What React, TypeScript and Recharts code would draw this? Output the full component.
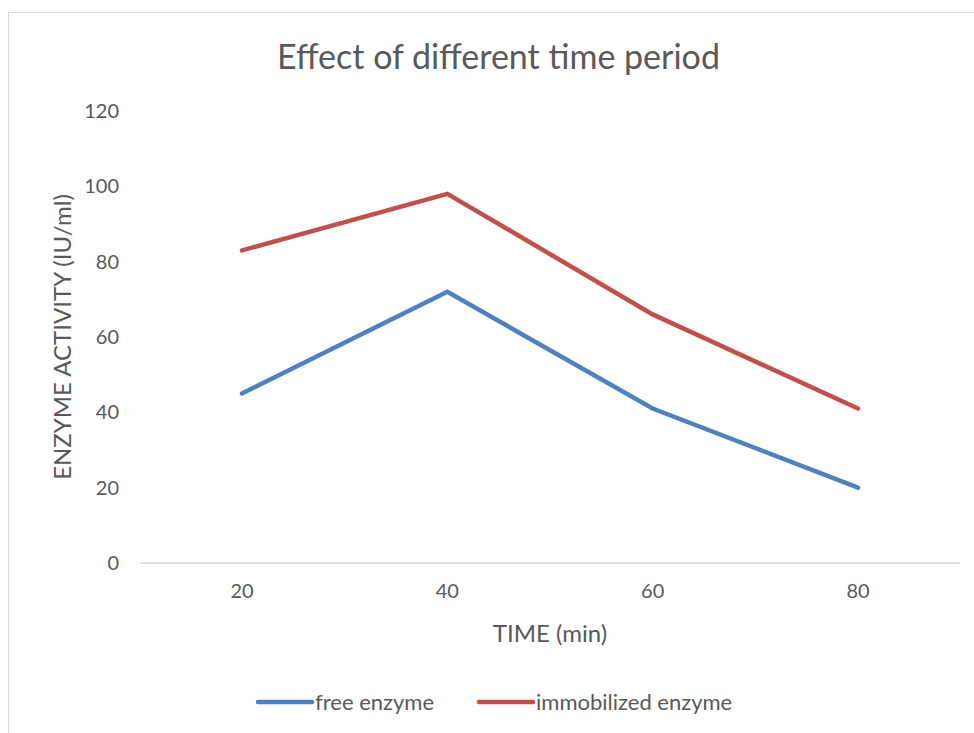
import { LineChart, Line, XAxis, YAxis, Legend } from "recharts";

const times = ["20", "40", "60", "80"];
const freeEnzyme = [45, 72, 41, 20];
const immobilizedEnzyme = [83, 98, 66, 41];
const yTicks = [0, 20, 40, 60, 80, 100, 120];

const data = times.map((t, i) => ({
  time: t,
  free: freeEnzyme[i],
  immobilized: immobilizedEnzyme[i],
}));

const FONT = "Lato, 'Open Sans', sans-serif";
const GREY = "#595959";
const BLUE = "#4F81BD";
const RED = "#C0504D";

function LegendContent() {
  const items = [
    { label: "free enzyme", color: BLUE },
    { label: "immobilized enzyme", color: RED },
  ];
  return (
    <div style={{ display: "flex", alignItems: "center", fontFamily: FONT, fontSize: 22, color: GREY }}>
      {items.map((it, i) => (
        <div key={it.label} style={{ display: "flex", alignItems: "center", marginLeft: i === 0 ? 0 : 42 }}>
          <svg width={60} height={10}>
            <line x1={3} y1={5} x2={57} y2={5} stroke={it.color} strokeWidth={4.5} strokeLinecap="round" />
          </svg>
          <span>{it.label}</span>
        </div>
      ))}
    </div>
  );
}

export default function App() {
  return (
    <div style={{ position: "absolute", left: 0, top: 0, width: 974, height: 733, background: "#fff" }}>
      <div
        style={{
          position: "absolute",
          left: 8,
          top: 12,
          width: 980,
          height: 740,
          borderLeft: "1.5px solid #d9d9d9",
          borderTop: "1.5px solid #d9d9d9",
        }}
      />
      <div
        style={{
          position: "absolute",
          left: 0,
          width: 997,
          top: 35,
          textAlign: "center",
          fontFamily: FONT,
          fontSize: 34,
          color: GREY,
        }}
      >
        Effect of different time period
      </div>
      <LineChart
        width={974}
        height={733}
        data={data}
        margin={{ top: 111, right: 14, bottom: 15, left: 40 }}
        style={{ position: "absolute", left: 0, top: 0 }}
      >
        <XAxis
          dataKey="time"
          padding={{ left: 102, right: 102 }}
          height={125}
          axisLine={{ stroke: "#d9d9d9", strokeWidth: 1.5 }}
          tickLine={false}
          tickSize={0}
          tickMargin={21}
          tick={{ fontSize: 20, fill: GREY, fontFamily: FONT }}
          label={{
            value: "TIME (min)",
            position: "insideBottom",
            offset: 46,
            style: { fontSize: 24, fill: GREY, fontFamily: FONT },
          }}
        />
        <YAxis
          domain={[0, 120]}
          ticks={yTicks}
          width={100}
          axisLine={false}
          tickLine={false}
          tickSize={0}
          tickMargin={21}
          tick={{ fontSize: 20, fill: GREY, fontFamily: FONT }}
          label={{
            value: "ENZYME ACTIVITY (IU/ml)",
            angle: -90,
            position: "insideLeft",
            offset: 22,
            style: { fontSize: 24, fill: GREY, fontFamily: FONT, textAnchor: "middle" },
          }}
        />
        <Legend verticalAlign="bottom" height={30} content={<LegendContent />} wrapperStyle={{ left: 255, width: "auto" }} />
        <Line
          dataKey="free"
          name="free enzyme"
          stroke={BLUE}
          strokeWidth={4.5}
          strokeLinecap="round"
          dot={false}
          activeDot={false}
          isAnimationActive={false}
        />
        <Line
          dataKey="immobilized"
          name="immobilized enzyme"
          stroke={RED}
          strokeWidth={4.5}
          strokeLinecap="round"
          dot={false}
          activeDot={false}
          isAnimationActive={false}
        />
      </LineChart>
    </div>
  );
}
